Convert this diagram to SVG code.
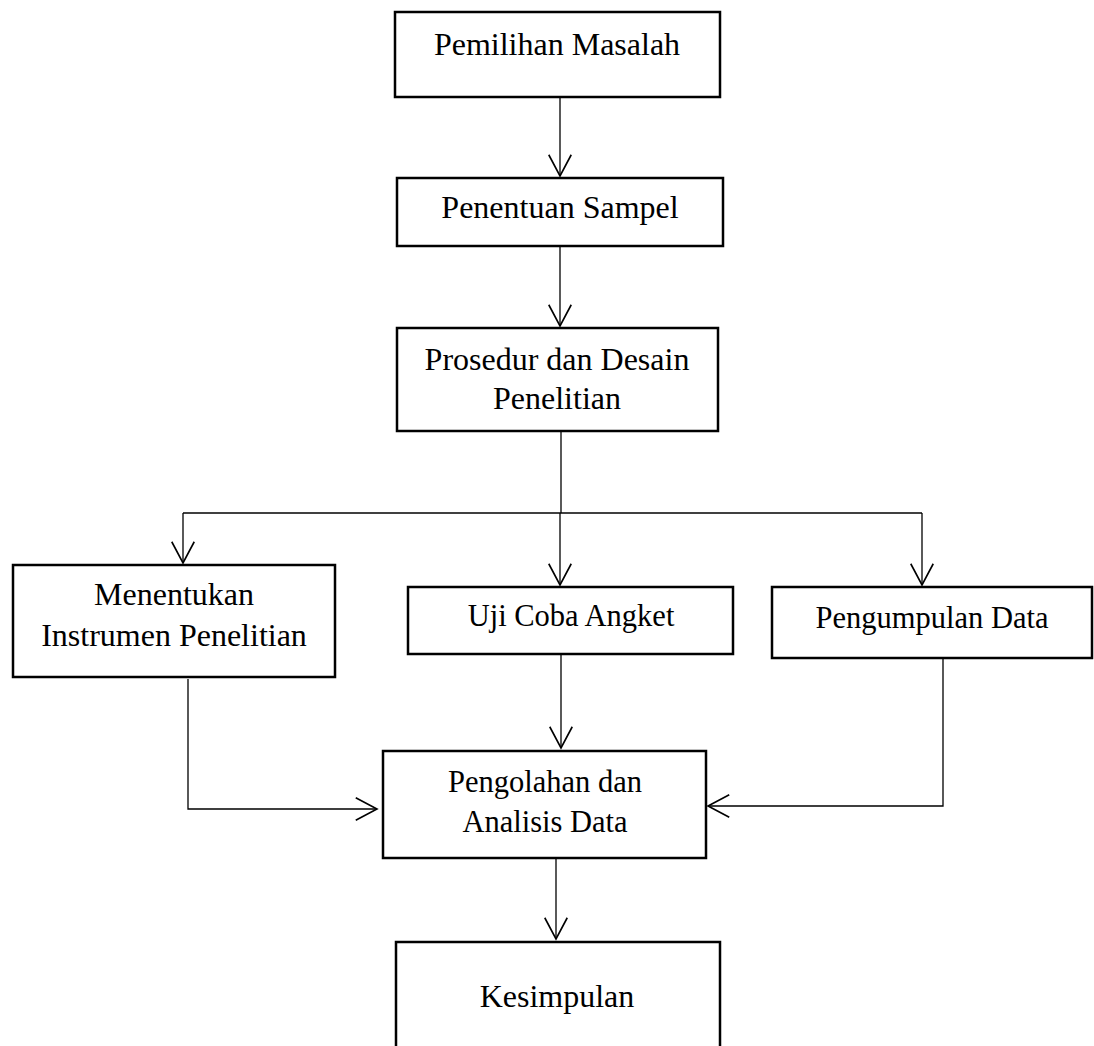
<svg xmlns="http://www.w3.org/2000/svg" width="1094" height="1046" viewBox="0 0 1094 1046">
<style>
.box{fill:#fff;stroke:#000;stroke-width:2.5}
.t{font-family:"Liberation Serif","Times New Roman",serif;font-size:32px;fill:#000;text-anchor:middle}
.s{font-size:30.5px}
.c{fill:none;stroke:#000;stroke-width:1.3}
</style>
<defs>
<marker id="ah" markerUnits="userSpaceOnUse" markerWidth="30" markerHeight="30" viewBox="-20 -12 24 24" refX="0" refY="0" orient="auto">
<path d="M-17,-9 L0,0 L-17,9" fill="none" stroke="#000" stroke-width="1.3"/>
</marker>
</defs>
<rect width="1094" height="1046" fill="#fff"/>
<g id="connectors">
<path class="c" d="M560,97 V176" marker-end="url(#ah)"/>
<path class="c" d="M560,246 V326" marker-end="url(#ah)"/>
<path class="c" d="M561,431 V513"/>
<path class="c" d="M183,513 H922"/>
<path class="c" d="M183,513 V563" marker-end="url(#ah)"/>
<path class="c" d="M560,513 V585" marker-end="url(#ah)"/>
<path class="c" d="M922,513 V585" marker-end="url(#ah)"/>
<path class="c" d="M188,679 V809 H377" marker-end="url(#ah)"/>
<path class="c" d="M561,655 V748" marker-end="url(#ah)"/>
<path class="c" d="M943,659 V806 H708" marker-end="url(#ah)"/>
<path class="c" d="M556,859 V939" marker-end="url(#ah)"/>
</g>
<g id="n1"><rect class="box" x="395" y="12" width="325" height="85"/><text class="t" x="557" y="55">Pemilihan Masalah</text></g>
<g id="n2"><rect class="box" x="397" y="178" width="326" height="68"/><text class="t" x="560" y="218">Penentuan Sampel</text></g>
<g id="n3"><rect class="box" x="397" y="328" width="321" height="103"/><text class="t" x="557" y="370">Prosedur dan Desain</text><text class="t" x="557" y="409">Penelitian</text></g>
<g id="n4"><rect class="box" x="13" y="565" width="322" height="112"/><text class="t" x="174" y="605">Menentukan</text><text class="t" x="174" y="646">Instrumen Penelitian</text></g>
<g id="n5"><rect class="box" x="408" y="587" width="325" height="67"/><text class="t s" x="571" y="626">Uji Coba Angket</text></g>
<g id="n6"><rect class="box" x="772" y="587" width="320" height="71"/><text class="t s" x="932" y="628">Pengumpulan Data</text></g>
<g id="n7"><rect class="box" x="383" y="751" width="323" height="107"/><text class="t s" x="545" y="792">Pengolahan dan</text><text class="t s" x="545" y="832">Analisis Data</text></g>
<g id="n8"><rect class="box" x="396" y="942" width="324" height="120"/><text class="t" x="557" y="1007">Kesimpulan</text></g>
</svg>
